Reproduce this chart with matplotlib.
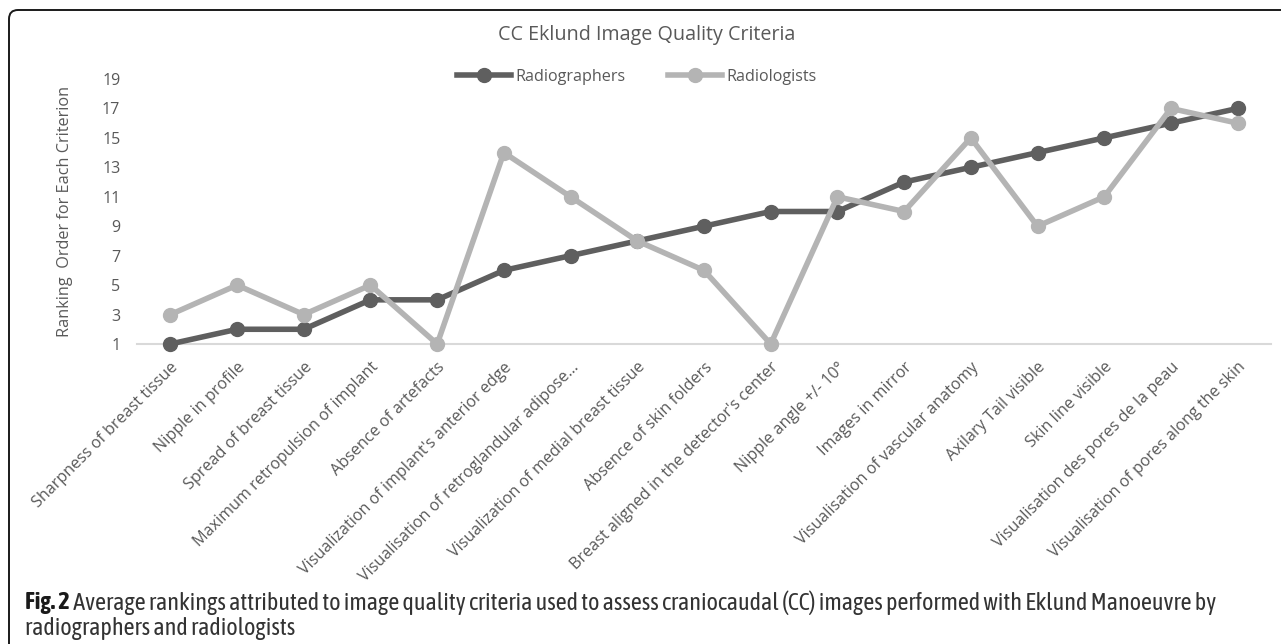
import matplotlib
matplotlib.use("Agg")
import matplotlib.pyplot as plt
from matplotlib import font_manager
from matplotlib.patches import FancyBboxPatch
from matplotlib.transforms import IdentityTransform

# ---- data -------------------------------------------------------------
criteria = [
    "Sharpness of breast tissue",
    "Nipple in profile",
    "Spread of breast tissue",
    "Maximum retropulsion of implant",
    "Absence of artefacts",
    "Visualization of implant's anterior edge",
    "Visualisation of retroglandular adipose...",
    "Visualization of medial breast tissue",
    "Absence of skin folders",
    "Breast aligned in the detector's center",
    "Nipple angle +/- 10\u00b0",
    "Images in mirror",
    "Visualisation of vascular anatomy",
    "Axilary Tail visible",
    "Skin line visible",
    "Visualisation des pores de la peau",
    "Visualisation of pores along the skin",
]
radiographers = [1, 2, 2, 4, 4, 6, 7, 8, 9, 10, 10, 12, 13, 14, 15, 16, 17]
radiologists = [3, 5, 3, 5, 1, 14, 11, 8, 6, 1, 11, 10, 15, 9, 11, 17, 16]
y_ticks = [1, 3, 5, 7, 9, 11, 13, 15, 17, 19]

title = "CC Eklund Image Quality Criteria"
y_label = "Ranking  Order for Each Criterion"
caption_bold = "Fig. 2"
caption_line1 = (" Average rankings attributed to image quality criteria used to assess "
                 "craniocaudal (CC) images performed with Eklund Manoeuvre by")
caption_line2 = "radiographers and radiologists"

# ---- style ------------------------------------------------------------
W, H, DPI = 1281, 644, 100
TXT = "#595959"
DARK = "#5f5f5f"
LIGHT = "#b4b4b4"
plt.rcParams["font.family"] = ["Open Sans", "DejaVu Sans"]


def _weight(w):
    if isinstance(w, str):
        return {"bold": 700, "heavy": 800, "black": 900, "semibold": 600,
                "demibold": 600}.get(w.lower(), 400)
    return w


# a narrow face (with a bold weight) for the caption when one is installed
fonts = font_manager.fontManager.ttflist
narrow_names = sorted({f.name for f in fonts
                       if ("Narrow" in f.name or "Condensed" in f.name)})
cap_font = "Open Sans"
for n in narrow_names:
    weights = {_weight(f.weight) for f in fonts if f.name == n}
    if any(w >= 600 for w in weights) and any(350 <= w < 600 for w in weights):
        cap_font = n
        break
cap_family = [cap_font, "DejaVu Sans"]


def fx(px):
    return px / W


def fy(py):
    return 1 - py / H


fig = plt.figure(figsize=(W / DPI, H / DPI), dpi=DPI)

# rounded frame around the figure panel
frame = FancyBboxPatch((9, -40), 1320, H - 10 + 40,
                       boxstyle="round,pad=0,rounding_size=9",
                       transform=IdentityTransform(), fill=False,
                       edgecolor="#1a1a1a", linewidth=1.4)
fig.patches.append(frame)

ax = fig.add_axes([fx(137), fy(344), (1271 - 137) / W, (344 - 79) / H])
x = list(range(len(criteria)))
ax.plot(x, radiographers, color=DARK, lw=4, marker="o", ms=10,
        label="Radiographers", zorder=3, clip_on=False)
ax.plot(x, radiologists, color=LIGHT, lw=4, marker="o", ms=10,
        label="Radiologists", zorder=4, clip_on=False)

ax.set_xlim(-0.5, len(criteria) - 0.5)
ax.set_ylim(1, 19)
for side in ("top", "right", "left"):
    ax.spines[side].set_visible(False)
ax.spines["bottom"].set_color("#d9d9d9")
ax.spines["bottom"].set_linewidth(1.5)
ax.spines["bottom"].set_zorder(1)

ax.set_yticks(y_ticks)
ax.set_xticks(x)
ax.set_xticklabels(criteria, rotation=45, ha="right", va="top",
                   rotation_mode="anchor")
ax.tick_params(length=0, colors=TXT, labelsize=11.6)
ax.tick_params(axis="y", pad=12)
ax.tick_params(axis="x", pad=11)

fig.text(fx(65), fy(211), y_label, rotation=90, ha="center", va="center",
         color=TXT, fontsize=11.7)
fig.text(fx(647), fy(35), title, ha="center", va="center", color=TXT,
         fontsize=14.2)

handles, labels = ax.get_legend_handles_labels()
fig.legend(handles, labels, loc="center", bbox_to_anchor=(fx(637), fy(77)),
           ncol=2, frameon=False, fontsize=11.6, handlelength=3.35,
           handletextpad=0.3, columnspacing=2.6, borderpad=0,
           labelcolor=TXT)

# caption below the chart, sized to span the panel width
fig.canvas.draw()
renderer = fig.canvas.get_renderer()
size = 13
t_bold = fig.text(fx(25), fy(603), caption_bold, ha="left", va="center",
                  fontsize=size, fontweight="bold", color="#1a1a1a",
                  family=cap_family)
t_rest = fig.text(0, fy(603), caption_line1, ha="left", va="center",
                  fontsize=size, color="#333333", family=cap_family)
t_two = fig.text(fx(25), fy(628), caption_line2, ha="left", va="center",
                 fontsize=size, color="#333333", family=cap_family)
target = 1215 - 25
for _ in range(3):
    bw = t_bold.get_window_extent(renderer).width
    rw = t_rest.get_window_extent(renderer).width
    size = size * target / (bw + rw)
    for t in (t_bold, t_rest, t_two):
        t.set_fontsize(size)
bw = t_bold.get_window_extent(renderer).width
t_rest.set_x(fx(25 + bw))

fig.savefig("out.png", dpi=DPI)
